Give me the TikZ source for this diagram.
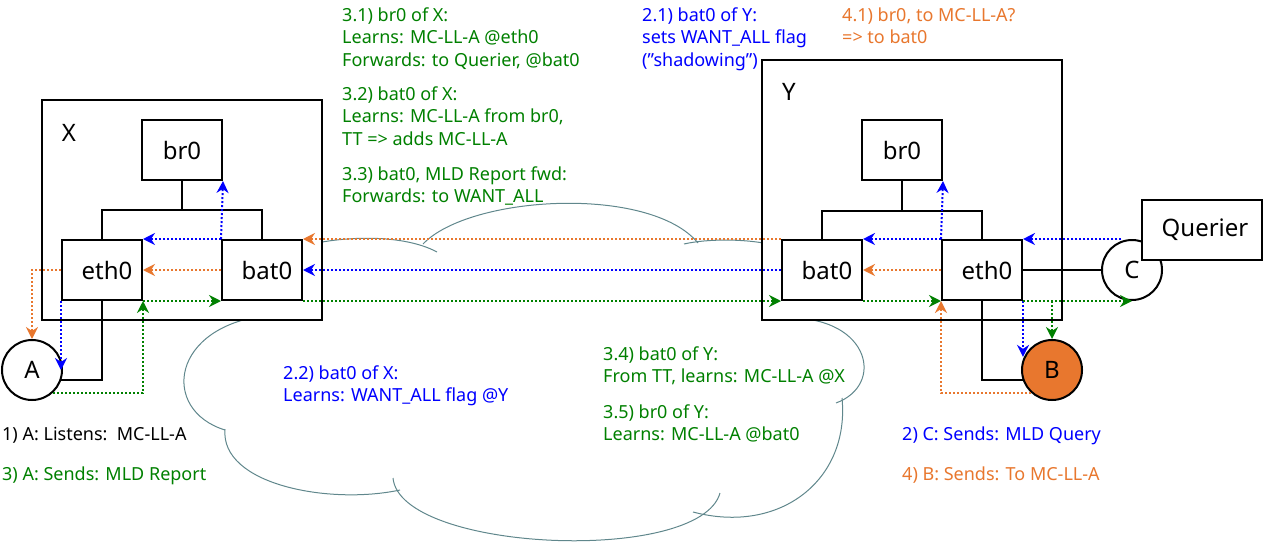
\documentclass[tikz,border=0pt]{standalone}
\usepackage{fontspec}
\setmainfont{Noto Sans}[Ligatures=ResetAll]
\usepackage{xcolor}
\usetikzlibrary{arrows.meta}
\definecolor{mcorange}{RGB}{232,119,46}
\definecolor{mcgreen}{RGB}{0,128,0}
\definecolor{cloudgray}{RGB}{96,135,140}

\begin{document}
\begin{tikzpicture}[x=1pt, y=-1pt, >={Stealth[length=12pt,width=12pt,inset=4pt]},
  hostbox/.style={draw, line width=2pt, fill=white, inner sep=0pt},
  ifbox/.style={draw, line width=2pt, fill=white, minimum width=80pt, minimum height=60pt, inner sep=0pt, font=\fontsize{24}{28}\selectfont},
  station/.style={draw, circle, line width=2pt, fill=white, minimum size=60pt, inner sep=0pt, font=\fontsize{24}{28}\selectfont},
  wire/.style={line width=2pt},
  flow/.style={->, line width=2pt, dash pattern=on 2pt off 2pt},
  note/.style={anchor=base west, align=left, inner sep=0pt, font=\fontsize{18}{22.5}\selectfont},
  cloudline/.style={draw=cloudgray, line width=1pt}]
  \useasboundingbox (0,0) rectangle (1263,541);
  % mesh cloud
  \draw[cloudline] (290,250) .. controls (330,236) and (400,232) .. (437,252);
  \draw[cloudline] (423,244) .. controls (470,195) and (650,185) .. (698,243);
  \draw[cloudline] (684,244) .. controls (710,238) and (760,238) .. (790,250);
  \draw[cloudline] (790,318) .. controls (870,318) and (885,385) .. (836,403);
  \draw[cloudline] (842,398) .. controls (850,480) and (780,535) .. (693,512);
  \draw[cloudline] (393,478) .. controls (400,552) and (700,565) .. (720,493);
  \draw[cloudline] (225,429) .. controls (220,485) and (330,505) .. (400,490);
  \draw[cloudline] (270,315) .. controls (170,325) and (160,410) .. (225,430);
  % nodes X and Y
  \node[hostbox, minimum width=280pt, minimum height=220pt] (xhost) at (182,210) {};
  \node[hostbox, minimum width=300pt, minimum height=260pt] (yhost) at (912,190) {};
  \node[font=\fontsize{24}{28}\selectfont] (xlab) at (69,133) {X};
  \node[font=\fontsize{24}{28}\selectfont] (ylab) at (789,92) {Y};
  \node[ifbox] (xbr) at (182,150) {br0};
  \node[ifbox] (xeth) at (102,270) {\hspace*{10pt}eth0};
  \node[ifbox] (xbat) at (262,270) {\hspace*{10pt}bat0};
  \node[ifbox] (ybr) at (902,150) {br0};
  \node[ifbox] (ybat) at (822,270) {\hspace*{10pt}bat0};
  \node[ifbox] (yeth) at (982,270) {\hspace*{10pt}eth0};
  \node[station] (na) at (32,370) {A};
  \node[station, fill=mcorange] (nb) at (1052,370) {B};
  \node[station] (nc) at (1132,270) {C};
  \node[ifbox, minimum width=120pt] (qr) at (1202,230) {\hspace*{6pt}Querier};
  % wiring
  \draw[wire] (xbr.south) -- ++(0,29) coordinate (xj) -| (xeth.north);
  \draw[wire] (xj) -| (xbat.north);
  \draw[wire] (ybr.south) -- ++(0,30) coordinate (yj) -| (ybat.north);
  \draw[wire] (yj) -| (yeth.north);
  \draw[wire] (xeth.south) |- (na.-19.5);
  \draw[wire] (yeth.south) |- (nb.199.5);
  \draw[wire] (yeth.east) -- (nc.west);
  % 2) MLD Query
  \foreach \a/\b in {nc.110 |- yeth.north east/yeth.north east, yeth.north west/ybr.south east,
    yeth.north west/ybat.north east, ybat.west/xbat.east, xbat.north west/xbr.south east,
    xbat.north west/xeth.north east, yeth.south east/nb.155 -| yeth.south east,
    xeth.south west/xeth.south west |- na.east}{\draw[flow, blue] (\a) -- (\b);}
  % 3) MLD Report
  \draw[flow, mcgreen] (na.-47) -| (xeth.south east);
  \foreach \a/\b in {xeth.south east/xbat.south west, xbat.south east/ybat.south west,
    ybat.south east/yeth.south west, yeth.south east/nc.south,
    nb.north |- yeth.south/nb.north}{\draw[flow, mcgreen] (\a) -- (\b);}
  % 4) multicast data
  \draw[flow, mcorange] (nb.227) -| (yeth.south west);
  \foreach \a/\b in {yeth.west/ybat.east, ybat.north west/xbat.north east,
    xbat.west/xeth.east}{\draw[flow, mcorange] (\a) -- (\b);}
  \draw[flow, mcorange] (xeth.west) -| (na.north);
  % notes
  \node[note, mcgreen] (t31) at (342,66) {3.1) br0 of X:\\Learns: MC-LL-A @eth0\\Forwards: to Querier, @bat0};
  \node[note, mcgreen] (t32) at (342,145) {3.2) bat0 of X:\\Learns: MC-LL-A from br0,\\TT => adds MC-LL-A};
  \node[note, mcgreen] (t33) at (342,202.5) {3.3) bat0, MLD Report fwd:\\Forwards: to WANT\_ALL};
  \node[note, blue] (t21) at (642,66) {2.1) bat0 of Y:\\sets WANT\_ALL flag\\("shadowing")};
  \node[note, mcorange] (t41) at (842,43.5) {4.1) br0, to MC-LL-A?\\=> to bat0};
  \node[note, blue] (t22) at (283,401.5) {2.2) bat0 of X:\\Learns: WANT\_ALL flag @Y};
  \node[note, mcgreen] (t34) at (603,382.5) {3.4) bat0 of Y:\\From TT, learns: MC-LL-A @X};
  \node[note, mcgreen] (t35) at (603,440.5) {3.5) br0 of Y:\\Learns: MC-LL-A @bat0};
  \node[note] (t1) at (2,440) {1) A: Listens:\ \ MC-LL-A};
  \node[note, mcgreen] (t3) at (2,480) {3) A: Sends: MLD Report};
  \node[note, blue] (t2) at (902,440) {2) C: Sends: MLD Query};
  \node[note, mcorange] (t4) at (902,480) {4) B: Sends: To MC-LL-A};
\end{tikzpicture}
\end{document}
